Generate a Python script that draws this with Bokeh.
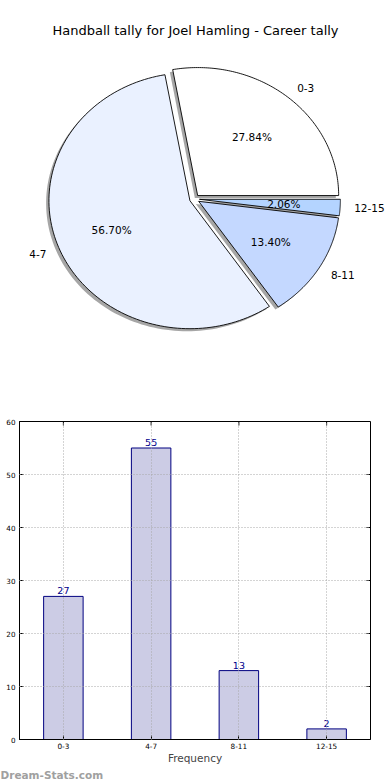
import numpy as np
from bokeh.plotting import figure
from bokeh.models import ColumnDataSource, Label, LabelSet, Range1d, FixedTicker, Title
from bokeh.core.properties import value
from bokeh.embed import file_html
from bokeh.resources import INLINE

# ---- data ----
title_text = "Handball tally for Joel Hamling - Career tally"
categories = ["0-3", "4-7", "8-11", "12-15"]
counts = [27, 55, 13, 2]
pie_colors = ["#ffffff", "#eaf1ff", "#c4d8ff", "#b4d4ff"]
explode = [0.035, 0.035, 0.035, 0.035]
y_ticks = [0, 10, 20, 30, 40, 50, 60]
x_label = "Frequency"
watermark = "Dream-Stats.com"

FONT = "DejaVu Sans"

# ---- pie ----
total = float(sum(counts))
fracs = np.array(counts) / total
cum = np.concatenate([[0.0], np.cumsum(fracs)])

wx, wy, sx, sy = [], [], [], []
left_lab = dict(x=[], y=[], t=[])
right_lab = dict(x=[], y=[], t=[])
pct_x, pct_y, pct_txt = [], [], []
for i, c in enumerate(categories):
    t1, t2 = 2 * np.pi * cum[i], 2 * np.pi * cum[i + 1]
    tm = 0.5 * (t1 + t2)
    ox, oy = explode[i] * np.cos(tm), explode[i] * np.sin(tm)
    t = np.linspace(t1, t2, 120)
    xs = [ox] + list(ox + np.cos(t)) + [ox]
    ys = [oy] + list(oy + np.sin(t)) + [oy]
    wx.append(xs)
    wy.append(ys)
    sx.append([v - 0.02 for v in xs])
    sy.append([v - 0.02 for v in ys])
    xt = ox + 1.1 * np.cos(tm)
    yt = oy + 1.1 * np.sin(tm)
    d = left_lab if xt > 0 else right_lab
    d["x"].append(xt)
    d["y"].append(yt)
    d["t"].append(c)
    pct_x.append(ox + 0.6 * np.cos(tm))
    pct_y.append(oy + 0.6 * np.sin(tm))
    pct_txt.append("%.2f%%" % (100 * fracs[i]))

p1 = figure(width=390, height=388, x_range=Range1d(-1.3759, 1.3901),
            y_range=Range1d(-1.4805, 1.5508), x_axis_type=None, y_axis_type=None,
            output_backend="svg", toolbar_location=None, min_border=0)
p1.grid.visible = False
p1.outline_line_color = None

p1.patches(xs=sx, ys=sy, fill_color="#4d4d4d", fill_alpha=0.5, line_color=None)
p1.patches(xs=wx, ys=wy, fill_color=pie_colors, line_color="black", line_width=0.9)

for d, al in ((left_lab, "left"), (right_lab, "right")):
    p1.add_layout(LabelSet(x="x", y="y", text="t", source=ColumnDataSource(d),
                           text_align=al, text_baseline="middle",
                           text_font=value(FONT), text_font_size="10.5px",
                           text_color="black"))
pct_src = ColumnDataSource(dict(x=pct_x, y=pct_y, t=pct_txt))
p1.text(x="x", y="y", text="t", source=pct_src, text_align="center",
        text_baseline="middle", text_font=value(FONT), text_font_size="10.5px",
        text_color="black")

p1.add_layout(Label(x=195, y=358, x_units="screen", y_units="screen", text=title_text,
                    text_align="center", text_baseline="middle", text_font=FONT,
                    text_font_size="13px", text_color="black"))

# ---- bars ----
xpos = list(range(len(categories)))
FW, FH = 351, 319
p2 = figure(width=390, height=392, x_range=Range1d(-0.5, len(categories) - 0.5),
            y_range=Range1d(0, 60), output_backend="svg", toolbar_location=None,
            min_border_left=19, min_border_right=20, min_border_top=33,
            min_border_bottom=40)
p2.outline_line_color = "black"
p2.outline_line_width = 1

src = ColumnDataSource(dict(x=xpos, top=counts, lab=[str(c) for c in counts]))
p2.vbar(x="x", top="top", width=0.45, bottom=0, source=src,
        fill_color="#ccccE5", line_color="#000080", line_width=1)
p2.text(x="x", y="top", text="lab", source=src, text_align="center",
        text_baseline="bottom", y_offset=-2, text_font=value(FONT),
        text_font_size="9.5px", text_color="#00008b")

for ax in (p2.xaxis[0], p2.yaxis[0]):
    ax.major_tick_in = 4
    ax.major_tick_out = 0
    ax.minor_tick_line_color = None
    ax.axis_line_color = "black"
    ax.major_label_text_font = FONT
    ax.major_label_text_color = "black"
    ax.major_label_standoff = 4

p2.xaxis.ticker = FixedTicker(ticks=xpos)
p2.xaxis.major_label_overrides = {i: c for i, c in enumerate(categories)}
p2.xaxis.major_label_text_font_size = "7.3px"
p2.xaxis.major_label_standoff = 3
p2.xaxis.axis_label = x_label
p2.xaxis.axis_label_text_font = FONT
p2.xaxis.axis_label_text_font_style = "normal"
p2.xaxis.axis_label_text_font_size = "10.5px"
p2.xaxis.axis_label_standoff = 0
p2.yaxis.ticker = FixedTicker(ticks=y_ticks)
p2.yaxis.major_label_text_font_size = "7.2px"

# inward ticks on the top and right edges (matplotlib style)
tlx = 4 * (len(categories)) / FW
tly = 4 * 60 / FH
p2.segment(x0=[len(categories) - 0.5] * len(y_ticks), y0=y_ticks,
           x1=[len(categories) - 0.5 - tlx] * len(y_ticks), y1=y_ticks,
           line_color="black", line_width=1)
p2.segment(x0=xpos, y0=[60] * len(xpos), x1=xpos, y1=[60 - tly] * len(xpos),
           line_color="black", line_width=1)

p2.xgrid.ticker = FixedTicker(ticks=xpos)
for g in (p2.xgrid[0], p2.ygrid[0]):
    g.grid_line_color = "#a8a8a8"
    g.grid_line_dash = "1 2"
    g.grid_line_width = 1
    g.level = "overlay"

p2.add_layout(Title(text=watermark, align="left", offset=-19, standoff=0,
                    text_font=FONT, text_font_size="10.5px", text_font_style="bold",
                    text_color="#a0a0a0"), "below")

# two separate roots, stacked: keeps the pie's frame independent of the bar frame
open("out.html", "w").write(file_html([p1, p2], INLINE))
